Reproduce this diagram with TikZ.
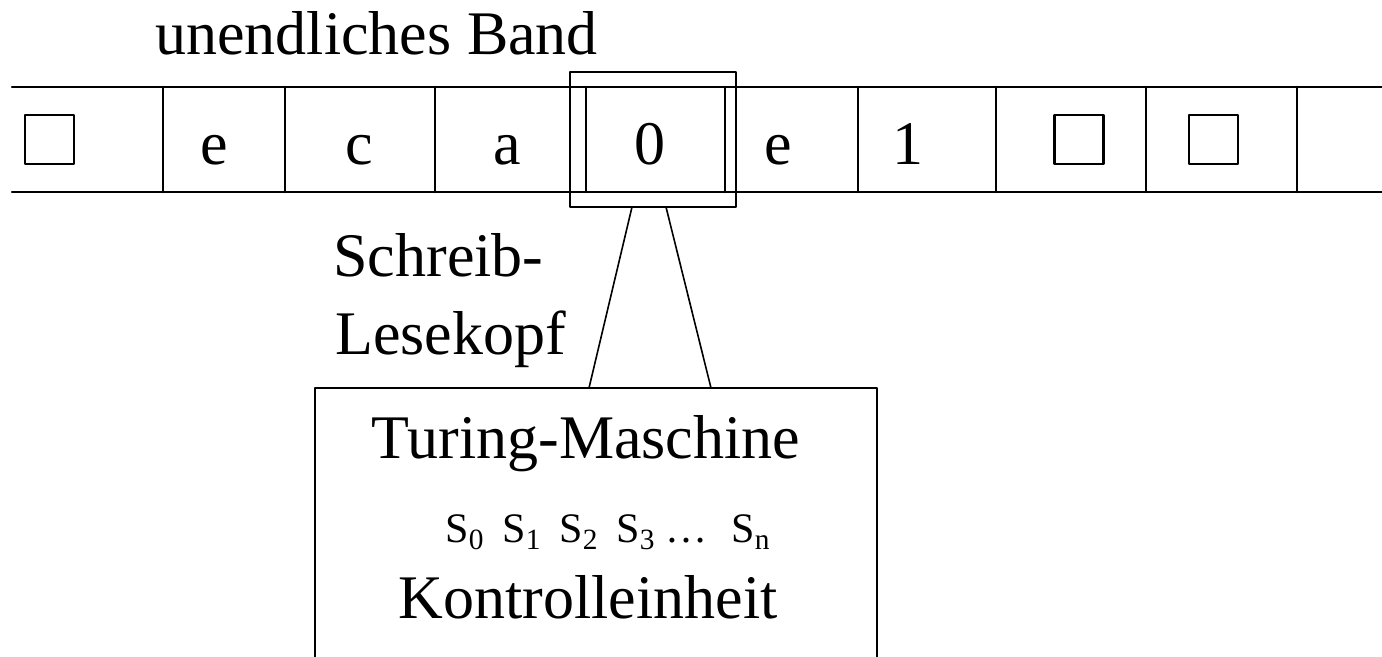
\documentclass[tikz,border=0pt]{standalone}
\usepackage{fontspec}
\setmainfont{Liberation Serif}
\usetikzlibrary{positioning}

\tikzset{
  big/.style={font=\fontsize{31}{37}\selectfont, inner sep=0pt},
  sym/.style={big, anchor=base},
  blank/.style={draw, line width=1.3pt, minimum size=24.5pt, inner sep=0pt},
}
\newcommand{\zs}[1]{S\textsubscript{#1}}

\begin{document}
\begin{tikzpicture}[line cap=round,line join=round,x=0.5pt,y=-0.5pt]
\useasboundingbox (0,0) rectangle (1382,657);
% Band
\draw [line width=1.2pt] (12,87)-- (1382,87);
\draw [line width=1.2pt] (12,192)-- (1382,192);
\foreach \xc in {163,285,435,586,725,858,996,1146,1297}
  \draw [line width=1.3pt] (\xc,87)-- (\xc,192);
\node[big, anchor=base west] (band) at (155,55) {unendliches Band};
% Zellen
\node[blank] (z1) at (49.5,139.5) {};
\node[sym] (z2) at (214,165) {e};
\node[sym] (z3) at (359,165) {c};
\node[sym] (z4) at (507,165) {a};
\node[sym] (z5) at (650,165) {0};
\node[sym] (z6) at (778,165) {e};
\node[sym] (z7) at (908,165) {1};
\node[blank] (z8) at (1079,139.5) {};
\node[blank] (z9) at (1213.5,139.5) {};
% Kopf
\node[draw, line width=1pt, minimum width=83pt, minimum height=67.5pt, inner sep=0pt] (kopf) at (653,139.5) {};
\coordinate (kl) at (632,207);
\coordinate (kr) at (666,207);
\coordinate (ml) at (589,388);
\coordinate (mr) at (711,388);
\draw [line width=0.8pt] (kl)-- (ml);
\draw [line width=0.8pt] (kr)-- (mr);
\node[big, anchor=base west] (schreib) at (333,277) {Schreib-};
\node[big, anchor=base west] (lese) at (335,355) {Lesekopf};
% Maschine
\draw [line width=1pt] (315,657)-- (315,388)-- (877,388)-- (877,657);
\node[sym] (tm) at (586,459) {Turing-Maschine};
\node[font=\fontsize{21}{25}\selectfont, inner sep=0pt, anchor=base west] (zust) at (445,543)
  {\zs{0}\hspace{9pt}\zs{1}\hspace{9pt}\zs{2}\hspace{9pt}\zs{3}\hspace{5pt}\dots\hspace{12pt}\zs{n}};
\node[sym] (ke) at (588,618) {Kontrolleinheit};
\end{tikzpicture}
\end{document}
